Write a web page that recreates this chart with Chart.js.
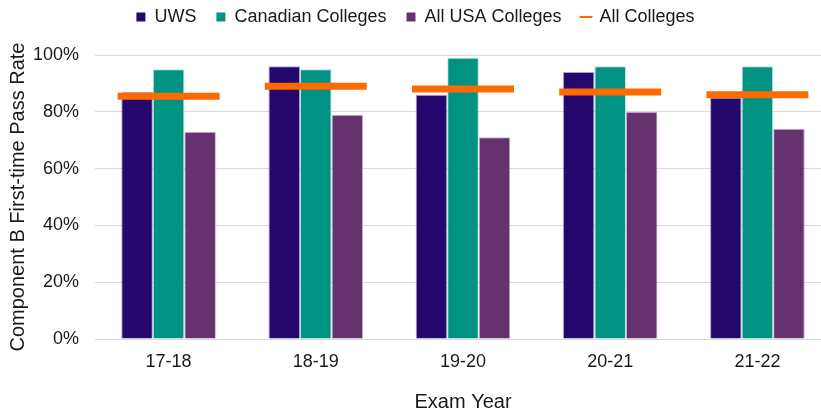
<!DOCTYPE html>
<html>
<head>
<meta charset="utf-8">
<script src="https://cdn.jsdelivr.net/npm/chart.js@4/dist/chart.umd.min.js"></script>
<style>
  html, body { margin: 0; padding: 0; background: #fff; overflow: hidden; }
  #wrap { width: 831px; height: 414px; }
</style>
</head>
<body>
<div id="wrap"><canvas id="passChart" width="831" height="414"></canvas></div>
<script>
/* Component B first-time pass rate by exam year */

const years = ['17-18', '18-19', '19-20', '20-21', '21-22'];
const uws = [87, 96, 86, 94, 85];
const canadian = [95, 95, 99, 96, 96];
const usa = [73, 79, 71, 80, 74];
const allColleges = [85.5, 89, 88, 87, 86];
const yTicks = [0, 20, 40, 60, 80, 100];

const COLORS = {
  uws: '#25086d',
  canadian: '#009383',
  usa: '#66316f',
  all: '#ff6a00',
  grid: '#d9d9d9',
  text: '#1a1a1a'
};

Chart.defaults.font.family = "'Liberation Sans', Arial, sans-serif";
Chart.defaults.color = COLORS.text;
Chart.defaults.animation = false;

// push the plot area down a little below the legend
const legendGap = {
  id: 'legendGap',
  beforeInit(chart) {
    const fit = chart.legend.fit;
    chart.legend.fit = function () {
      fit.call(this);
      this.height += 19;
    };
  }
};

const ctx = document.getElementById('passChart').getContext('2d');

new Chart(ctx, {
  data: {
    labels: years,
    datasets: [
      {
        type: 'bar',
        label: 'UWS',
        data: uws,
        backgroundColor: COLORS.uws,
        borderColor: 'rgba(120, 100, 180, 0.6)',
        borderWidth: 1,
        order: 1
      },
      {
        type: 'bar',
        label: 'Canadian Colleges',
        data: canadian,
        backgroundColor: COLORS.canadian,
        borderColor: 'rgba(140, 210, 200, 0.6)',
        borderWidth: 1,
        order: 1
      },
      {
        type: 'bar',
        label: 'All USA Colleges',
        data: usa,
        backgroundColor: COLORS.usa,
        borderColor: 'rgba(170, 130, 175, 0.6)',
        borderWidth: 1,
        order: 1
      },
      {
        type: 'line',
        label: 'All Colleges',
        data: allColleges,
        showLine: false,
        pointStyle: 'line',
        pointRadius: 51,
        pointHoverRadius: 51,
        pointBorderWidth: 7,
        pointHoverBorderWidth: 7,
        pointBorderColor: COLORS.all,
        borderColor: COLORS.all,
        backgroundColor: COLORS.all,
        clip: false,
        order: 0
      }
    ]
  },
  plugins: [legendGap],
  options: {
    responsive: false,
    layout: { autoPadding: false, padding: { top: -12, left: 0, right: 0, bottom: 0 } },
    datasets: {
      bar: { categoryPercentage: 0.643, barPercentage: 1 }
    },
    plugins: {
      legend: {
        display: true,
        position: 'top',
        labels: {
          usePointStyle: true,
          boxWidth: 9,
          boxHeight: 9,
          padding: 20,
          font: { size: 18 },
          color: COLORS.text,
          generateLabels: (chart) => chart.data.datasets.map((ds, i) => ({
            text: ds.label,
            fillStyle: ds.type === 'line' ? COLORS.all : ds.backgroundColor,
            strokeStyle: ds.type === 'line' ? COLORS.all : ds.backgroundColor,
            lineWidth: ds.type === 'line' ? 2 : 0,
            pointStyle: ds.type === 'line' ? 'line' : 'rect',
            fontColor: COLORS.text,
            hidden: false,
            datasetIndex: i
          }))
        }
      },
      tooltip: { enabled: false }
    },
    scales: {
      x: {
        grid: { display: false, drawTicks: false },
        border: { color: COLORS.grid, width: 1 },
        ticks: { padding: 12, font: { size: 18 }, color: COLORS.text },
        title: {
          display: true,
          text: 'Exam Year',
          font: { size: 20 },
          color: COLORS.text,
          padding: { top: 0, bottom: 0 }
        },
        afterFit: (scale) => { scale.height = 75; }
      },
      y: {
        min: 0,
        max: 100,
        afterBuildTicks: (scale) => { scale.ticks = yTicks.map(v => ({ value: v })); },
        ticks: {
          padding: 16,
          font: { size: 18 },
          color: COLORS.text,
          callback: (v) => v + '%'
        },
        grid: { color: COLORS.grid, lineWidth: 1, drawTicks: false },
        border: { display: false },
        title: {
          display: true,
          text: 'Component B First-time Pass Rate',
          font: { size: 20 },
          color: COLORS.text,
          padding: { top: 6, bottom: 0 }
        },
        afterFit: (scale) => { scale.width = 95; }
      }
    }
  }
});
</script>
</body>
</html>
